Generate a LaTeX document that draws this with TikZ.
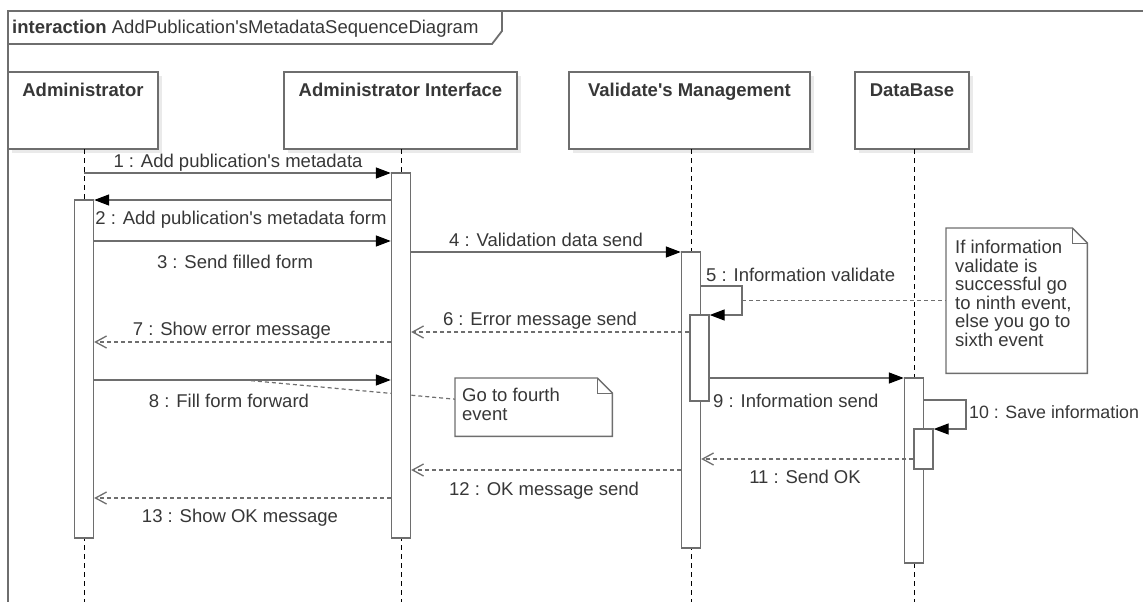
\documentclass[tikz,border=0pt]{standalone}
\usepackage{fontspec}
\setmainfont{Liberation Sans}
\usetikzlibrary{arrows.meta,positioning}
\definecolor{ln}{RGB}{110,110,110}
\definecolor{tx}{RGB}{55,55,55}
\definecolor{sh}{RGB}{234,234,234}
\newcommand{\seqfont}{\fontsize{18.5}{18.5}\selectfont}
\newcommand{\apos}{\textquotesingle}
\tikzstyle{sequence}=[
    x=1pt, y=-1pt,
    every node/.style={font=\seqfont, text=tx, inner sep=0pt},
    frame/.style={draw=ln, line width=1.8pt},
    head box/.style={rectangle, draw=ln, fill=white, line width=1.4pt},
    head shadow/.style={fill=sh, draw=none},
    head label/.style={font=\seqfont\bfseries, anchor=base},
    life/.style={black, line width=0.9pt, dash pattern=on 5pt off 4pt},
    act bar/.style={rectangle, draw=ln, fill=white, line width=1.4pt, minimum width=19pt},
    call/.style={draw=ln, line width=1.4pt, -{Triangle[length=15pt,width=11pt,color=black]}},
    reply/.style={draw=ln, line width=1.3pt, dash pattern=on 4pt off 3pt, -{Straight Barb[length=11pt,width=12pt]}},
    msg label/.style={anchor=base},
    note box/.style={rectangle, draw=none, anchor=north west},
    note line/.style={draw=ln, line width=1.4pt, fill=white},
    note fold/.style={draw=ln, line width=0.8pt},
    note text/.style={anchor=north west, align=left},
    note link/.style={draw=ln, line width=1.2pt, dash pattern=on 4pt off 3pt},
]
% activation bar: name, x, top, bottom
\newcommand{\actbar}[4]{
    \pgfmathsetmacro{\barh}{#4-#3}
    \pgfmathsetmacro{\barm}{(#3+#4)/2}
    \node[act bar, minimum height=\barh pt] (#1) at (#2,\barm) {};
}
% note with folded corner
\newcommand{\notepath}[1]{
    \draw[note line] (#1.north west) -- ([xshift=-15pt]#1.north east)
        -- ([yshift=-15pt]#1.north east) -- (#1.south east) -- (#1.south west) -- cycle;
    \draw[note fold] ([xshift=-15pt]#1.north east) |- ([yshift=-15pt]#1.north east);
}

\begin{document}
\begin{tikzpicture}[sequence]
    \useasboundingbox (0,0) rectangle (1143,602);

    % frame
    \draw[frame] (8,602) -- (8,11) -- (1143,11);
    \draw[frame] (8,44) -- (492,44) -- (502,31) -- (502,11);
    \node[anchor=base west] (title) at (12,34) {\textbf{interaction} AddPublication\apos sMetadataSequenceDiagram};

    % lifelines
    \coordinate (adm top) at (84,149);
    \coordinate (ifc top) at (401,149);
    \coordinate (val top) at (691,149);
    \coordinate (db top) at (914,149);
    \foreach \n/\px/\lx/\rx/\txt in {adm/84/8/158/Administrator, ifc/401/284/517/Administrator Interface, val/691/569/810/Validate\apos s Management, db/914/855/969/DataBase}{
        \pgfmathsetmacro{\hw}{\rx-\lx}
        \pgfmathsetmacro{\hx}{(\rx+\lx)/2}
        \fill[head shadow] (\lx+4,76) rectangle (\rx+4,153);
        \node[head box, minimum width=\hw pt, minimum height=77pt] (\n) at (\hx,110.5) {};
        \node[head label] (\n-label) at (\hx,96) {\txt};
        \draw[life] (\px,149) -- (\px,602);
    }

    % message rows
    \foreach \i/\y in {1/173, 2/200, 3/241, 4/252, 5/286, 5b/315, 6/332, 7/342, 8/380, 9/378, 10/400, 10b/429, 11/459, 12/470, 13/498}
        \coordinate (r\i) at (0,\y);
    \coordinate (loop5) at (742,0);
    \coordinate (loop10) at (966,0);
    \coordinate (link8) at (244,380);

    % notes
    \node[note box, minimum width=141pt, minimum height=145pt] (note1) at (946,228) {};
    \node[note box, minimum width=157pt, minimum height=58pt] (note2) at (455,378) {};
    \draw[note link] (loop5 |- note1.west) -- (note1.west);
    \draw[note link] (link8) -- ([yshift=8pt]note2.west);
    \notepath{note1}
    \notepath{note2}
    \node[note text] (note1 text) at (955,240) {If information\\validate is\\successful go\\to ninth event,\\else you go to\\sixth event};
    \node[note text] (note2 text) at (462,388) {Go to fourth\\event};

    % activations
    \actbar{adm bar}{84}{200}{538}
    \actbar{ifc bar}{401}{173}{538}
    \actbar{val bar}{691}{252}{548}
    \actbar{val sub}{699.5}{315}{401}
    \actbar{db bar}{914}{378}{563}
    \actbar{db sub}{923.5}{429}{469}

    % messages
    \draw[call] (adm top |- r1) -- (ifc bar.west |- r1);
    \node[msg label] (m1) at (238,167) {1 : Add publication\apos s metadata};
    \draw[call] (ifc bar.west |- r2) -- (adm bar.east |- r2);
    \node[msg label] (m2) at (241,224) {2 : Add publication\apos s metadata form};
    \draw[call] (adm bar.east |- r3) -- (ifc bar.west |- r3);
    \node[msg label] (m3) at (235,268) {3 : Send filled form};
    \draw[call] (ifc bar.east |- r4) -- (val bar.west |- r4);
    \node[msg label] (m4) at (546,246) {4 : Validation data send};
    \draw[call] (val bar.east |- r5) -- (loop5 |- r5) -- (loop5 |- r5b) -- (val sub.east |- r5b);
    \node[msg label, anchor=base west] (m5) at (706,281) {5 : Information validate};
    \draw[reply] (val sub.west |- r6) -- (ifc bar.east |- r6);
    \node[msg label] (m6) at (540,325) {6 : Error message send};
    \draw[reply] (ifc bar.west |- r7) -- (adm bar.east |- r7);
    \node[msg label] (m7) at (232,335) {7 : Show error message};
    \draw[call] (adm bar.east |- r8) -- (ifc bar.west |- r8);
    \node[msg label] (m8) at (229,407) {8 : Fill form forward};
    \draw[call] (val sub.east |- r9) -- (db bar.west |- r9);
    \node[msg label, anchor=base west] (m9) at (713,407) {9 : Information send};
    \draw[call] (db bar.east |- r10) -- (loop10 |- r10) -- (loop10 |- r10b) -- (db sub.east |- r10b);
    \node[msg label, anchor=base west, font=\fontsize{17.8}{18}\selectfont] (m10) at (969,418) {10 : Save information};
    \draw[reply] (db sub.west |- r11) -- (val bar.east |- r11);
    \node[msg label] (m11) at (805,483) {11 : Send OK};
    \draw[reply] (val bar.west |- r12) -- (ifc bar.east |- r12);
    \node[msg label] (m12) at (544,495) {12 : OK message send};
    \draw[reply] (ifc bar.west |- r13) -- (adm bar.east |- r13);
    \node[msg label] (m13) at (240,522) {13 : Show OK message};
\end{tikzpicture}
\end{document}
